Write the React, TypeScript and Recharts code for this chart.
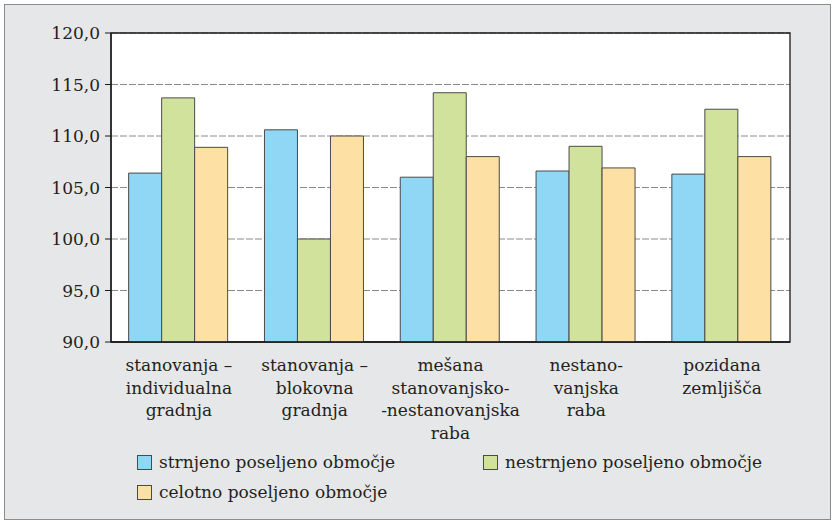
import { BarChart, Bar, XAxis, YAxis, CartesianGrid, ReferenceArea } from 'recharts';

const CATEGORIES = ['individualna', 'blokovna', 'mesana', 'nestanovanjska', 'pozidana'];
const CATEGORY_LINES = [
  ['stanovanja –', 'individualna', 'gradnja'],
  ['stanovanja –', 'blokovna', 'gradnja'],
  ['mešana', 'stanovanjsko-', '-nestanovanjska', 'raba'],
  ['nestano-', 'vanjska', 'raba'],
  ['pozidana', 'zemljišča'],
];
const STRNJENO = [106.4, 110.6, 106.0, 106.6, 106.3];
const NESTRNJENO = [113.7, 100.0, 114.2, 109.0, 112.6];
const CELOTNO = [108.9, 110.0, 108.0, 106.9, 108.0];
const Y_TICKS = [90, 95, 100, 105, 110, 115, 120];

const SERIES = [
  { key: 'strnjeno', name: 'strnjeno poseljeno območje', color: '#8fd7f4' },
  { key: 'nestrnjeno', name: 'nestrnjeno poseljeno območje', color: '#d1e29c' },
  { key: 'celotno', name: 'celotno poseljeno območje', color: '#fde0a4' },
];

const data = CATEGORIES.map((name, i) => ({
  name,
  strnjeno: STRNJENO[i],
  nestrnjeno: NESTRNJENO[i],
  celotno: CELOTNO[i],
}));

const FONT = '"DejaVu Serif", "Liberation Serif", serif';
const TEXT = '#231f20';

// multi-line category labels under the x axis
function CategoryTick(props: any) {
  const { x, y, payload } = props;
  const lines = CATEGORY_LINES[payload.index] ?? [String(payload.value)];
  return (
    <text x={x} y={y + 29} textAnchor="middle" fill={TEXT} fontFamily={FONT} fontSize={17}>
      {lines.map((line, i) => (
        <tspan key={i} x={x} dy={i === 0 ? 0 : 22.5}>
          {line}
        </tspan>
      ))}
    </text>
  );
}

function LegendItem({ name, color }: { name: string; color: string }) {
  return (
    <div style={{ display: 'flex', alignItems: 'center', height: 30 }}>
      <span
        style={{
          width: 13,
          height: 13,
          background: color,
          border: '1px solid #4a4a4a',
          marginRight: 7,
          display: 'inline-block',
        }}
      />
      <span>{name}</span>
    </div>
  );
}

export default function App() {
  return (
    <div style={{ position: 'absolute', left: 0, top: 0, width: 834, height: 524, background: '#fff' }}>
      <div
        style={{
          position: 'absolute',
          left: 4,
          top: 4,
          width: 825,
          height: 514,
          background: '#e6e7e8',
          border: '1px solid #8c8c8c',
        }}
      />
      <BarChart
        width={834}
        height={524}
        data={data}
        margin={{ top: 33, right: 44, bottom: 0, left: 0 }}
        barCategoryGap="13%"
        barGap={0}
        style={{ position: 'absolute', left: 0, top: 0 }}
      >
        <CartesianGrid vertical={false} fill="#ffffff" stroke="#8a8a8a" strokeDasharray="7 2" />
        <XAxis
          dataKey="name"
          height={182}
          interval={0}
          tickLine={false}
          tickSize={0}
          tickMargin={0}
          axisLine={{ stroke: '#1a1a1a', strokeWidth: 1.3 }}
          tick={<CategoryTick />}
        />
        <YAxis
          width={111}
          domain={[90, 120]}
          ticks={Y_TICKS}
          interval={0}
          tickSize={6}
          tickMargin={5}
          axisLine={{ stroke: '#1a1a1a', strokeWidth: 1.3 }}
          tickLine={{ stroke: '#1a1a1a' }}
          tick={{ fill: TEXT, fontFamily: FONT, fontSize: 17 }}
          tickFormatter={(v: number) => v.toFixed(1).replace('.', ',')}
        />
        {SERIES.map((s) => (
          <Bar
            key={s.key}
            dataKey={s.key}
            name={s.name}
            fill={s.color}
            stroke="#4a4a4a"
            strokeWidth={1}
            isAnimationActive={false}
          />
        ))}
        <ReferenceArea y1={90} y2={120} fill="none" stroke="#1a1a1a" strokeWidth={1.3} />
      </BarChart>
      <div
        style={{
          position: 'absolute',
          left: 137,
          top: 447,
          width: 660,
          display: 'grid',
          gridTemplateColumns: '346px auto',
          fontFamily: FONT,
          fontSize: 17,
          color: TEXT,
        }}
      >
        {SERIES.map((s) => (
          <LegendItem key={s.key} name={s.name} color={s.color} />
        ))}
      </div>
    </div>
  );
}
